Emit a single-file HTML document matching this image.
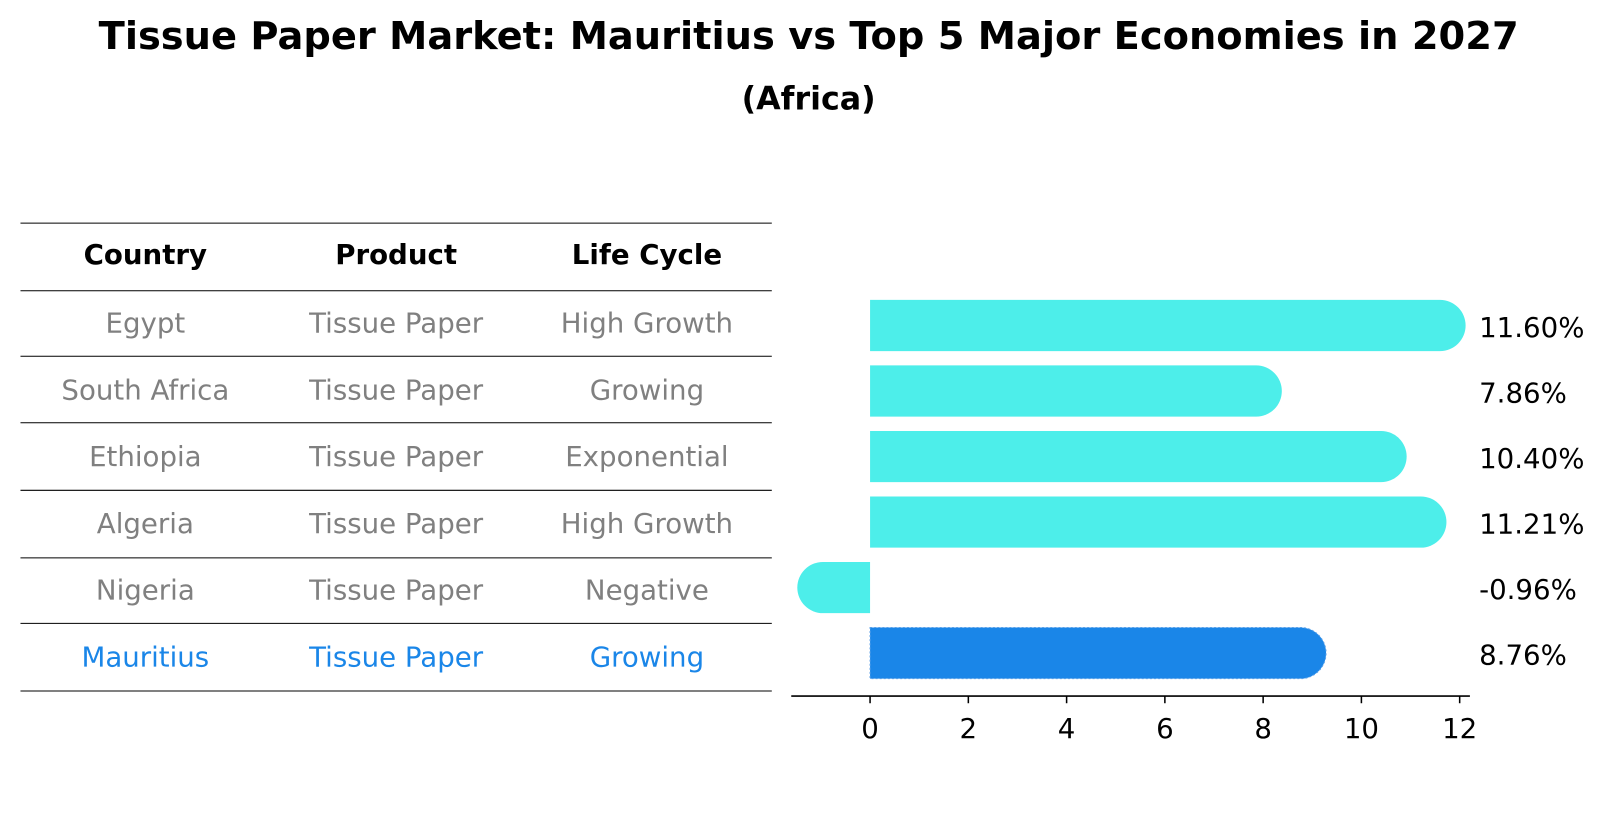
<!DOCTYPE html>
<html><head><meta charset="utf-8"><style>
body{margin:0;background:#fff;font-family:"Liberation Sans","DejaVu Sans",sans-serif}
</style></head><body>
<svg width="1604" height="823" viewBox="0 0 1567 804" preserveAspectRatio="none" xmlns="http://www.w3.org/2000/svg" font-family="DejaVu Sans, Liberation Sans, sans-serif">
<text x="790" y="48" text-anchor="middle" font-size="37.5" font-weight="bold">Tissue Paper Market: Mauritius vs Top 5 Major Economies in 2027</text>
<text x="790" y="107" text-anchor="middle" font-size="31" font-weight="bold">(Africa)</text>
<g id="table"></g>
<g id="bars"></g>
</svg>
<script>
const countries=["Egypt","South Africa","Ethiopia","Algeria","Nigeria","Mauritius"];
const products=["Tissue Paper","Tissue Paper","Tissue Paper","Tissue Paper","Tissue Paper","Tissue Paper"];
const lifeCycles=["High Growth","Growing","Exponential","High Growth","Negative","Growing"];
const values=[11.60,7.86,10.40,11.21,-0.96,8.76];
const valueLabels=["11.60%","7.86%","10.40%","11.21%","-0.96%","8.76%"];
const xTicks=[0,2,4,6,8,10,12];
const NS="http://www.w3.org/2000/svg";
function mk(t,a,p){const e=document.createElementNS(NS,t);for(const k in a)e.setAttribute(k,a[k]);p.appendChild(e);return e;}
const tbl=document.getElementById('table');
const lineYs=[218,284,348,413,479,545,609,675];
lineYs.forEach(y=>{const l=mk('line',{x1:20,x2:754,y1:y,y2:y,stroke:'#000','stroke-width':1},tbl);

});
const colX=[142,387,632];
["Country","Product","Life Cycle"].forEach((h,i)=>{const t=mk('text',{x:colX[i],y:258,'text-anchor':'middle','font-size':27,'font-weight':'bold'},tbl);t.textContent=h;

});
countries.forEach((c,r)=>{const y=325+r*65.2;const col=r==5?'#1a86e8':'#808080';
[c,products[r],lifeCycles[r]].forEach((v,i)=>{const t=mk('text',{x:colX[i],y:y,'text-anchor':'middle','font-size':27,fill:col},tbl);t.textContent=v;

});});
const g=document.getElementById('bars');
const x0=850,sc=48;const xs=v=>x0+v*sc;
const yc=i=>318+i*64;const h=50,r=25;
values.forEach((v,i)=>{const col=i==5?'#1a86e8':'#4deeea';const y=yc(i)-h/2;let d;
const xe=xs(v);
if(v>=0){d=`M${x0},${y}H${xe}A${r},${r} 0 0 1 ${xe},${y+h}H${x0}Z`;}
else{d=`M${x0},${y}H${xe}A${r},${r} 0 0 0 ${xe},${y+h}H${x0}Z`;}
const p=mk('path',{d:d,fill:col},g);
if(i==5){p.setAttribute('stroke','#5aa0e8');p.setAttribute('stroke-dasharray','2,2');}


const t=mk('text',{x:1445,y:yc(i)+11,'font-size':27},g);t.textContent=valueLabels[i];

});
const ax=mk('line',{x1:773,x2:1436,y1:680,y2:680,stroke:'#000','stroke-width':1.5},g);


xTicks.forEach(v=>{const tk=mk('line',{x1:xs(v),x2:xs(v),y1:680,y2:687,stroke:'#000','stroke-width':1.5},g);


const t=mk('text',{x:xs(v),y:721,'text-anchor':'middle','font-size':27},g);t.textContent=v;

});
</script>
</body></html>
